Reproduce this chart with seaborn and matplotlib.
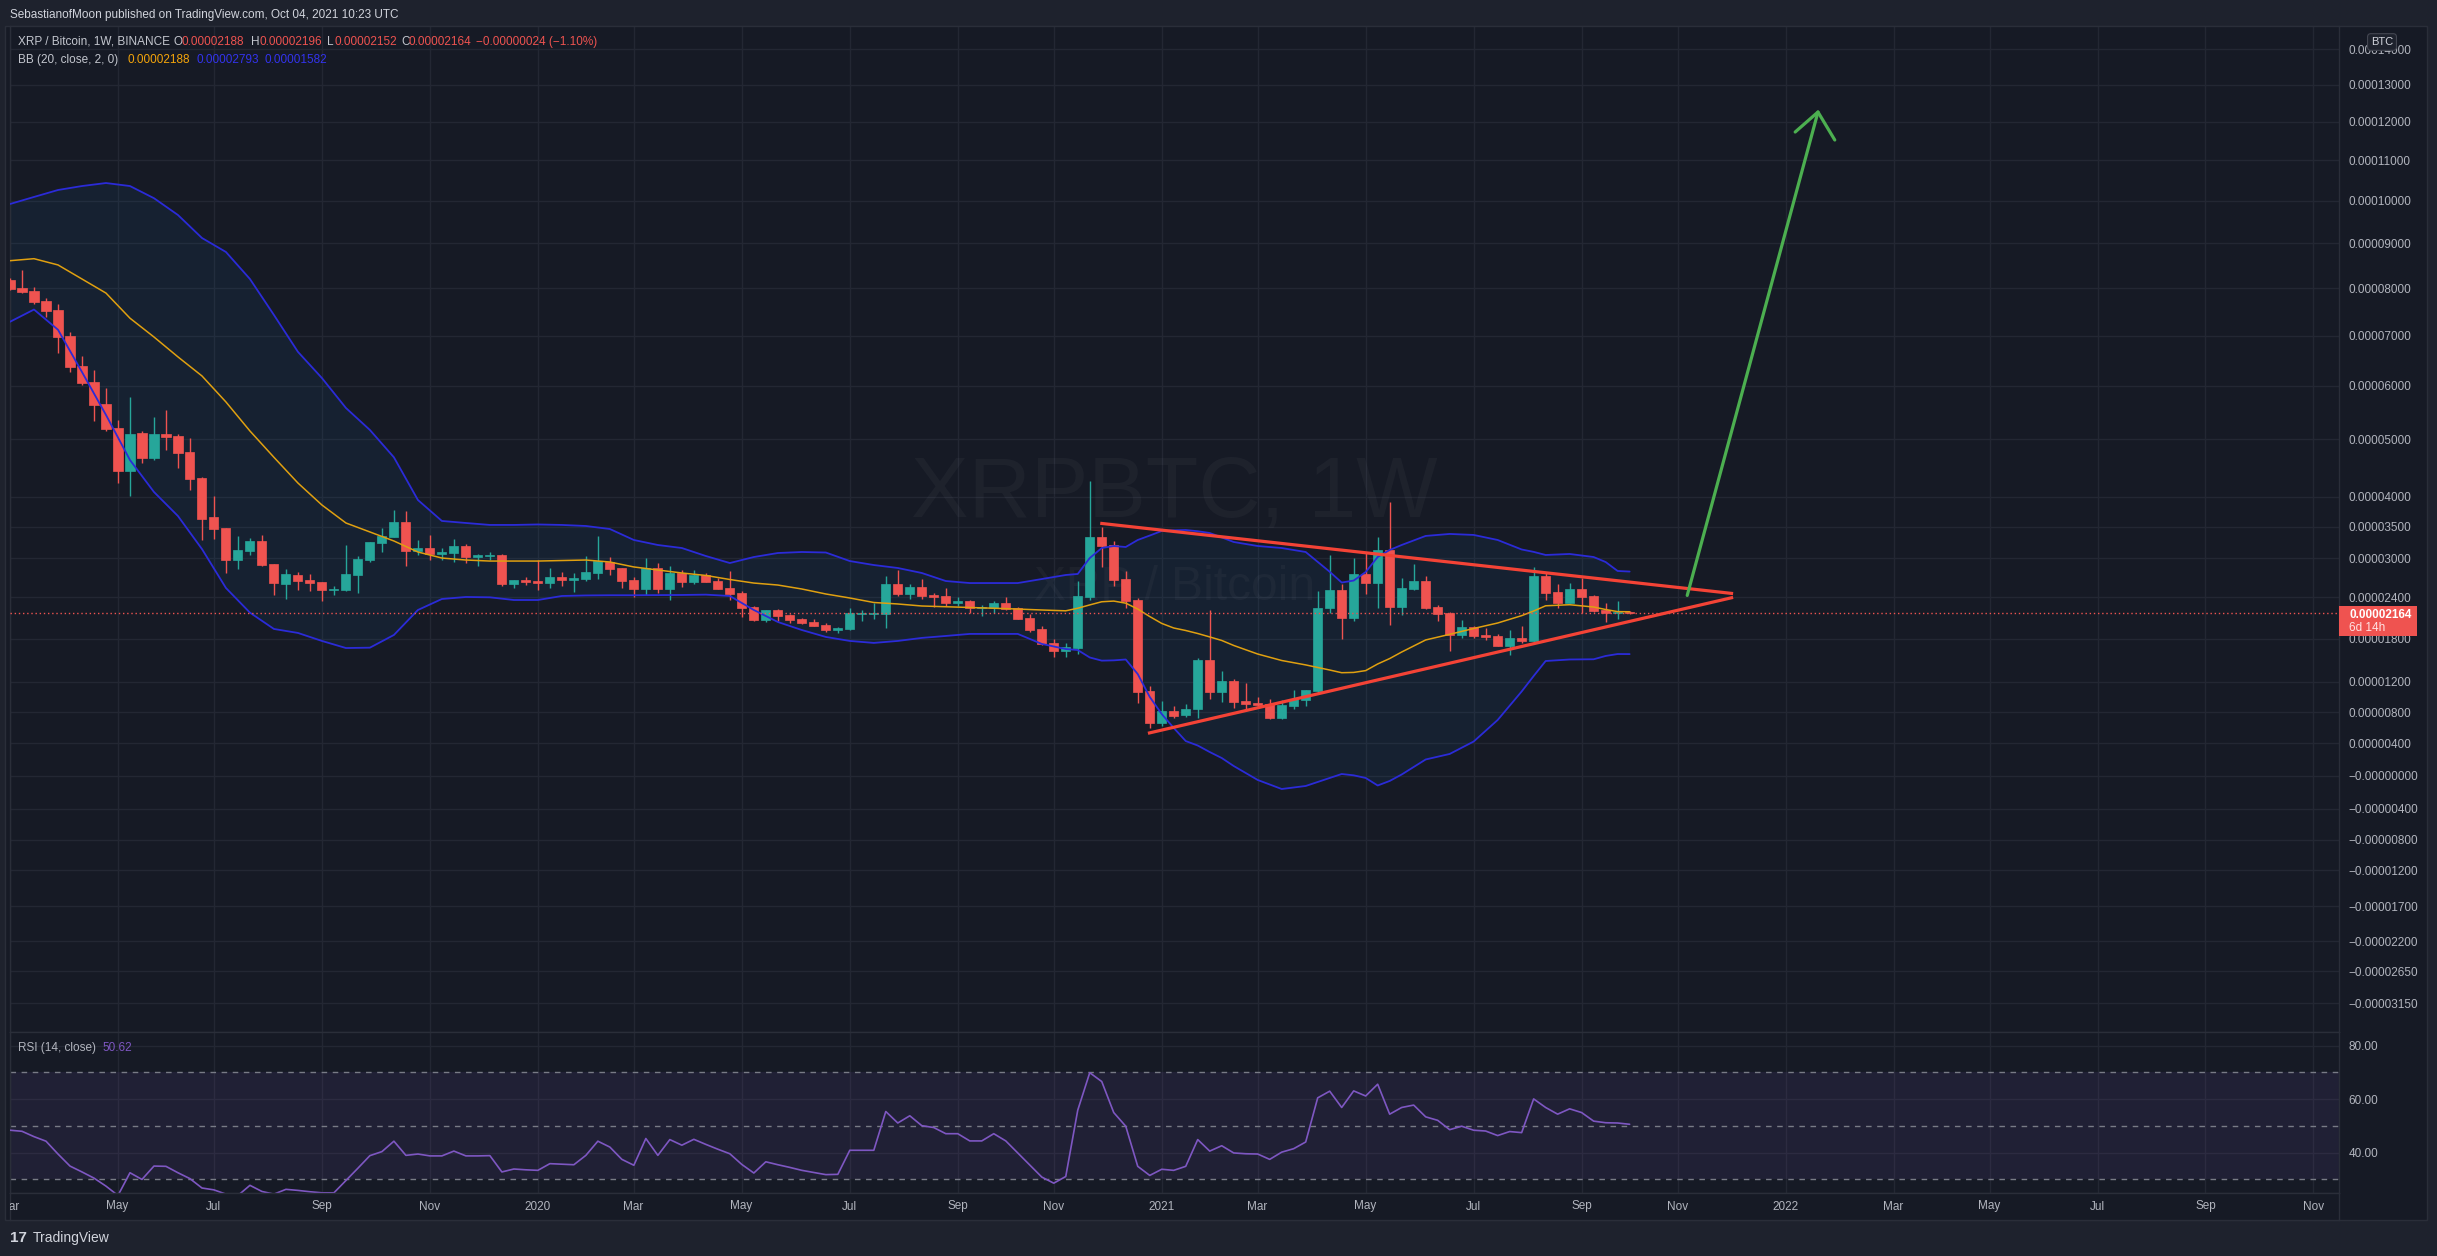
import numpy as np
import seaborn as sns
import matplotlib.pyplot as plt
import matplotlib.dates as mdates
from matplotlib.patches import Rectangle

W, H = 2437, 1256

# weekly XRP/BTC candles, prices in satoshi (1e-8 BTC), first bar = week of 2019-03-04
first_week = "2019-03-04"
opens = [8177, 8003, 7937, 7722, 7531, 6992, 6389, 6076, 5656, 5209,
         4446, 5117, 4669, 5104, 5063, 4775, 4319, 3662, 3483, 2972,
         3114, 3273, 2910, 2607, 2740, 2663, 2633, 2515, 2512, 2745,
         2972, 3246, 3343, 3580, 3119, 3161, 3071, 3087, 3193, 3024,
         3040, 3051, 2607, 2668, 2648, 2622, 2709, 2663, 2678, 2775,
         2946, 2848, 2663, 2532, 2848, 2532, 2771, 2637, 2740, 2648,
         2542, 2467, 2258, 2068, 2214, 2141, 2082, 2039, 1996, 1927,
         1938, 2160, 2160, 2156, 2602, 2452, 2557, 2437, 2422, 2317,
         2347, 2243, 2243, 2317, 2243, 2097, 1938, 1739, 1625, 1667,
         2407, 3338, 3209, 2678, 2362, 1083, 662, 815, 758, 837,
         1500, 1070, 1212, 946, 920, 907, 728, 885, 963, 1079,
         2248, 2512, 2102, 2756, 2622, 3130, 2263, 2532, 2648, 2258,
         2175, 1856, 1967, 1856, 1842, 1699, 1814, 1771, 2725, 2482,
         2322, 2527, 2422, 2214, 2175, 2188]
highs = [8230, 8397, 8031, 7793, 7659, 7074, 6587, 6310, 5961, 5356,
         5794, 5148, 5418, 5543, 5098, 5027, 4331, 4013, 3483, 3354,
         3321, 3370, 2910, 2828, 2786, 2755, 2633, 2572, 3209, 3035,
         3257, 3483, 3778, 3762, 3289, 3370, 3161, 3305, 3225, 3071,
         3098, 3067, 2663, 2709, 2972, 2843, 2786, 2766, 3035, 3354,
         3019, 2848, 2705, 3003, 2925, 2879, 2817, 2817, 2771, 2699,
         2802, 2497, 2273, 2214, 2233, 2156, 2097, 2082, 2025, 1971,
         2243, 2214, 2322, 2725, 2817, 2602, 2678, 2467, 2542, 2407,
         2362, 2288, 2347, 2407, 2263, 2160, 1981, 1791, 1739, 2648,
         4268, 3499, 3273, 2802, 2392, 1146, 950, 880, 907, 1528,
         2214, 1348, 1240, 1184, 999, 972, 959, 1092, 1092, 2497,
         3051, 2602, 3003, 3098, 3338, 3912, 2694, 2910, 2725, 2288,
         2190, 2068, 1986, 1956, 1870, 1927, 1986, 2864, 2771, 2602,
         2617, 2694, 2437, 2317, 2347, 2196]
lows = [7950, 7895, 7658, 7391, 6654, 6271, 6024, 5343, 5159, 4239,
        4013, 4585, 4633, 4811, 4493, 4114, 3289, 3310, 2766, 2837,
        3056, 2879, 2442, 2381, 2512, 2501, 2352, 2433, 2501, 2472,
        2946, 3098, 3343, 2879, 3056, 2972, 2972, 2946, 2930, 2884,
        2972, 2577, 2546, 2592, 2512, 2546, 2573, 2482, 2648, 2678,
        2740, 2542, 2412, 2442, 2472, 2367, 2562, 2607, 2637, 2532,
        2367, 2116, 2058, 2039, 2058, 2029, 2010, 1986, 1899, 1885,
        1923, 2053, 2087, 1956, 2422, 2381, 2377, 2258, 2273, 2273,
        2175, 2131, 2175, 2214, 2082, 1895, 1710, 1546, 1546, 1583,
        2362, 2868, 2573, 2248, 923, 600, 623, 728, 732, 724,
        975, 937, 858, 832, 858, 711, 715, 845, 885, 1057,
        2175, 1799, 2058, 2457, 2248, 2000, 2146, 2517, 2233, 2058,
        1629, 1814, 1814, 1785, 1699, 1574, 1743, 1757, 2367, 2248,
        2322, 2175, 2190, 2043, 2087, 2152]
closes = [7980, 7917, 7708, 7510, 6977, 6376, 6062, 5642, 5196, 4446,
          5098, 4669, 5098, 5050, 4763, 4307, 3634, 3471, 2972, 3130,
          3273, 2889, 2622, 2756, 2652, 2622, 2512, 2525, 2756, 2988,
          3257, 3354, 3580, 3119, 3166, 3071, 3102, 3193, 3024, 3051,
          3056, 2607, 2663, 2633, 2622, 2709, 2663, 2689, 2786, 2961,
          2832, 2652, 2532, 2848, 2532, 2771, 2637, 2740, 2637, 2532,
          2457, 2248, 2068, 2214, 2131, 2068, 2029, 1986, 1927, 1952,
          2166, 2166, 2166, 2602, 2452, 2557, 2422, 2407, 2317, 2347,
          2243, 2258, 2317, 2233, 2082, 1923, 1725, 1629, 1681, 2422,
          3338, 3193, 2663, 2347, 1070, 662, 811, 754, 841, 1500,
          1070, 1212, 937, 911, 898, 728, 894, 972, 1092, 2243,
          2512, 2102, 2756, 2622, 3130, 2263, 2542, 2648, 2248, 2160,
          1856, 1967, 1842, 1828, 1699, 1814, 1771, 2725, 2472, 2322,
          2527, 2412, 2203, 2175, 2188, 2164]
last_price = 2164

# Bollinger bands (20, 2), indexed by week number
bb_week = [0, 2, 4, 6, 8, 10, 12, 14, 16, 18, 20, 22, 24, 26, 28, 30, 32, 34, 36, 38,
           40, 42, 44, 46, 48, 50, 52, 54, 56, 58, 60, 62, 64, 66, 68, 70, 72, 74, 76, 78,
           80, 82, 84, 86, 88, 89, 90, 91, 92, 93, 94, 95, 96, 97, 98, 99, 100, 101, 102,
           104, 106, 108, 110, 111, 112, 113, 114, 115, 116, 118, 120, 122, 124, 126,
           127, 128, 130, 132, 133, 134, 135]
bb_upper = [9920, 10090, 10259, 10356, 10430, 10356, 10060, 9658, 9121, 8801, 8199, 7427, 6670, 6152, 5580, 5172, 4681, 3945, 3597, 3564,
            3532, 3532, 3540, 3532, 3515, 3466, 3289, 3209, 3161, 3035, 2925, 3019, 3082, 3098, 3090, 2956, 2894, 2848, 2771, 2648,
            2617, 2617, 2617, 2678, 2740, 2756, 3003, 3161, 3193, 3177, 3289, 3360, 3434, 3445, 3450, 3430, 3401, 3330, 3257,
            3193, 3161, 3098, 2790, 2625, 2655, 2786, 3019, 3130, 3209, 3354, 3386, 3370, 3289, 3138,
            3100, 3051, 3067, 3019, 2941, 2802, 2793]
bb_basis = [8605, 8650, 8510, 8199, 7893, 7360, 6971, 6569, 6193, 5693, 5154, 4681, 4233, 3861, 3564, 3418, 3273, 3098, 3003, 2972,
            2956, 2956, 2956, 2964, 2972, 2941, 2864, 2817, 2771, 2733, 2671, 2617, 2587, 2527, 2452, 2392, 2325, 2303, 2273, 2262,
            2251, 2240, 2228, 2214, 2202, 2240, 2289, 2336, 2346, 2315, 2228, 2118, 2018, 1952, 1916, 1873, 1824, 1774, 1703,
            1583, 1493, 1432, 1362, 1325, 1329, 1354, 1445, 1520, 1611, 1781, 1861, 1945, 2024, 2131,
            2199, 2276, 2292, 2258, 2221, 2190, 2188]
bb_lower = [7285, 7542, 7120, 6270, 5450, 4633, 4080, 3678, 3145, 2542, 2175, 1938, 1881, 1767, 1667, 1672, 1852, 2214, 2377, 2407,
            2402, 2362, 2362, 2422, 2430, 2433, 2433, 2435, 2437, 2442, 2422, 2214, 2039, 1923, 1824, 1767, 1739, 1767, 1810, 1838,
            1867, 1867, 1867, 1725, 1653, 1639, 1535, 1491, 1495, 1507, 1307, 1000, 775, 596, 430, 374, 293, 219, 121,
            -48, -158, -121, -24, 24, 8, -24, -115, -60, 18, 201, 269, 424, 698, 1072,
            1280, 1486, 1507, 1510, 1556, 1583, 1582]

# RSI(14) per week
rsi = [48.4, 48.0, 46.0, 44.3, 39.5, 35.0, 32.8, 30.5, 27.5, 24.0,
       32.5, 30.0, 35.0, 34.9, 32.5, 30.3, 26.8, 26.1, 24.5, 24.0,
       27.8, 25.5, 24.5, 26.3, 25.9, 25.4, 25.0, 25.0, 29.6, 34.2,
       38.9, 40.4, 44.3, 39.0, 39.5, 38.8, 38.8, 40.6, 38.8, 38.8,
       38.9, 32.8, 33.9, 33.6, 33.4, 35.9, 35.7, 35.5, 39.0, 44.3,
       42.1, 37.5, 35.3, 45.3, 39.0, 44.9, 42.8, 45.0, 43.1, 41.3,
       39.6, 35.6, 32.4, 36.6, 35.5, 34.5, 33.4, 32.6, 31.8, 31.9,
       40.9, 40.9, 40.9, 55.4, 51.1, 53.8, 50.1, 49.4, 47.1, 47.1,
       44.4, 44.4, 47.1, 44.4, 39.9, 35.4, 30.9, 28.6, 31.1, 55.9,
       69.9, 66.6, 55.0, 49.9, 34.9, 31.5, 33.8, 33.4, 34.9, 44.9,
       40.6, 42.6, 39.9, 39.6, 39.5, 37.5, 40.2, 41.5, 44.0, 60.5,
       63.0, 56.9, 63.1, 61.2, 65.6, 54.4, 56.9, 57.8, 53.4, 52.1,
       48.6, 49.9, 48.4, 48.1, 46.4, 47.9, 47.5, 60.1, 56.9, 54.4,
       56.4, 55.0, 51.8, 51.2, 51.1, 50.62]
rsi_levels = [70, 50, 30]
rsi_ticks = [80, 60, 40]

# drawings: (week number, price in sats)
tri_upper_week = [90.875, 143.625]
tri_upper_price = [3559, 2458]
tri_lower_week = [94.85, 143.625]
tri_lower_price = [528, 2401]
arrow_week = [139.8, 150.7]
arrow_price = [2430, 12255]
head_week = [148.8, 150.7, 152.1]
head_price = [11725, 12255, 11517]

price_ticks = [14000, 13000, 12000, 11000, 10000, 9000, 8000, 7000, 6000, 5000, 4000,
               3500, 3000, 2400, 1800, 1200, 800, 400, 0, -400, -800, -1200, -1700,
               -2200, -2650, -3150]
month_dates = ["2019-03-04", "2019-05-06", "2019-07-01", "2019-09-02", "2019-11-04",
               "2020-01-06", "2020-03-02", "2020-05-04", "2020-07-06", "2020-09-07",
               "2020-11-02", "2021-01-04", "2021-03-01", "2021-05-03", "2021-07-05",
               "2021-09-06", "2021-11-01", "2022-01-03", "2022-03-07", "2022-05-02",
               "2022-07-04", "2022-09-05", "2022-11-07"]
month_labels = ["Mar", "May", "Jul", "Sep", "Nov", "2020", "Mar", "May", "Jul", "Sep",
                "Nov", "2021", "Mar", "May", "Jul", "Sep", "Nov", "2022", "Mar", "May",
                "Jul", "Sep", "Nov"]

BG = "#161a25"
OUTER = "#1e222d"
GRID = "#232733"
BORDER = "#2a2e39"
TXT = "#b2b5be"
UP = "#26a69a"
DOWN = "#ef5350"
BAND = "#2b2bd8"
BASIS = "#e0a010"
RSI_C = "#7e57c2"

sns.set_theme(style="dark", rc={"axes.facecolor": BG, "figure.facecolor": OUTER,
                                "axes.edgecolor": BORDER, "text.color": TXT})
plt.rcParams["font.family"] = ["Liberation Sans", "DejaVu Sans"]


def fwd(v):
    v = np.asarray(v, dtype=float)
    return np.sign(v) * np.log1p(np.abs(v) / 1e4)


def inv(t):
    t = np.asarray(t, dtype=float)
    return np.sign(t) * np.expm1(np.abs(t)) * 1e4


def box(x0, y0, x1, y1):
    return [x0 / W, 1 - y1 / H, (x1 - x0) / W, (y1 - y0) / H]


def ftext(x, y, s, **kw):
    kw.setdefault("fontsize", 8.5)
    kw.setdefault("va", "center")
    fig.text(x / W, 1 - y / H, s, **kw)


fig = plt.figure(figsize=(W / 100, H / 100), dpi=100, facecolor=OUTER)
fig.patches.append(Rectangle((5 / W, 1 - 1220 / H), 2422 / W, 1194 / H, transform=fig.transFigure,
                             facecolor=BG, edgecolor=BORDER, lw=1, zorder=-1))

ax = fig.add_axes(box(10, 26, 2339, 1032))
ax_rsi = fig.add_axes(box(10, 1032, 2339, 1193))
ax_t = fig.add_axes(box(10, 1193, 2339, 1220))

x0 = mdates.datestr2num(first_week)
n = len(closes)
cx = x0 + 7 * np.arange(n)
bb_x = x0 + 7 * np.array(bb_week)
month_x = mdates.datestr2num(month_dates)
xlim = (x0 + 0.3, x0 + 1358.9)

o, h, l, c = (np.array(a, dtype=float) for a in (opens, highs, lows, closes))
col = np.where(c >= o, UP, DOWN)

# ---- main pane
ax.set_yscale("function", functions=(fwd, inv))
ax.set_ylim(-3613, 14685)
ax.set_xlim(*xlim)
ax.set_axisbelow(True)

ax.text(0.5, 0.512, "XRPBTC, 1W", transform=ax.transAxes, ha="center", va="baseline",
        fontsize=62, color="#d1d4dc", alpha=0.045, zorder=0.8)
ax.text(0.5, 0.4294, "XRP / Bitcoin", transform=ax.transAxes, ha="center", va="baseline",
        fontsize=34.5, color="#d1d4dc", alpha=0.045, zorder=0.8)

ax.fill_between(bb_x, bb_lower, bb_upper, color="#2196f3", alpha=0.06, lw=0, zorder=1)
ax.vlines(cx, l, h, colors=col, lw=1, zorder=3)
ax.bar(cx, np.abs(c - o), bottom=np.minimum(o, c), width=5.3, color=col,
       edgecolor=col, linewidth=0.5, zorder=3.1)

sns.lineplot(x=bb_x, y=bb_upper, ax=ax, color=BAND, lw=1.3, zorder=4)
sns.lineplot(x=bb_x, y=bb_lower, ax=ax, color=BAND, lw=1.3, zorder=4)
sns.lineplot(x=bb_x, y=bb_basis, ax=ax, color=BASIS, lw=1.1, zorder=4)

ax.axhline(last_price, color=DOWN, lw=1, ls=(0, (1, 2)), zorder=4.5)

ax.plot(x0 + 7 * np.array(tri_upper_week), tri_upper_price, color="#f44336", lw=2.3,
        solid_capstyle="butt", zorder=5)
ax.plot(x0 + 7 * np.array(tri_lower_week), tri_lower_price, color="#f44336", lw=2.3,
        solid_capstyle="butt", zorder=5)
ax.plot(x0 + 7 * np.array(arrow_week), arrow_price, color="#4caf50", lw=2.3, zorder=5)
ax.plot(x0 + 7 * np.array(head_week), head_price, color="#4caf50", lw=2.3, zorder=5)

price_labels = [("\u2212" if v <= 0 else "") + f"{abs(v) * 1e-8:.8f}" for v in price_ticks]
ax.set_yticks(price_ticks)
ax.set_yticklabels(price_labels)
ax.yaxis.tick_right()
ax.set_xticks(month_x)
ax.tick_params(axis="y", length=0, pad=7, labelsize=8.5, labelcolor=TXT, right=True, left=False)
ax.tick_params(axis="x", length=0, labelbottom=False)
ax.grid(True, color=GRID, lw=1)
ax.set_xlabel("")
ax.set_ylabel("")

# ---- RSI pane
ax_rsi.set_xlim(*xlim)
ax_rsi.set_ylim(24.93, 85.12)
ax_rsi.set_axisbelow(True)
ax_rsi.axhspan(min(rsi_levels), max(rsi_levels), facecolor=RSI_C, alpha=0.1, lw=0, zorder=0.6)
for lvl in rsi_levels:
    ax_rsi.axhline(lvl, color="#787b86", lw=1, ls=(0, (4, 4)), zorder=1)
sns.lineplot(x=cx, y=rsi, ax=ax_rsi, color=RSI_C, lw=1.2, zorder=3)
ax_rsi.set_yticks(rsi_ticks)
ax_rsi.set_yticklabels([f"{v:.2f}" for v in rsi_ticks])
ax_rsi.yaxis.tick_right()
ax_rsi.set_xticks(month_x)
ax_rsi.tick_params(axis="y", length=0, pad=7, labelsize=8.5, labelcolor=TXT, right=True, left=False)
ax_rsi.tick_params(axis="x", length=0, labelbottom=False)
ax_rsi.grid(True, color=GRID, lw=1)
ax_rsi.set_xlabel("")
ax_rsi.set_ylabel("")
ax_rsi.text(0.0034, 0.9, "RSI (14, close)", transform=ax_rsi.transAxes, fontsize=8.5,
            color=TXT, va="center")
ax_rsi.text(0.0395, 0.9, f"{rsi[-1]:.2f}", transform=ax_rsi.transAxes, fontsize=8.5,
            color=RSI_C, va="center")

# ---- time axis strip
ax_t.set_xlim(*xlim)
ax_t.set_ylim(0, 1)
ax_t.set_xticks([])
ax_t.set_yticks([])
for mx, lab in zip(month_x, month_labels):
    ax_t.text(mx, 0.5, lab, ha="center", va="center", fontsize=8.5, color=TXT, clip_on=True)

for a in (ax, ax_rsi, ax_t):
    for s in a.spines.values():
        s.set_color(BORDER)
        s.set_linewidth(1)

# ---- header / legend texts
ftext(10, 15, "SebastianofMoon published on TradingView.com, Oct 04, 2021 10:23 UTC",
      fontsize=8.5, color="#d1d4dc")
ftext(18, 42, "XRP / Bitcoin, 1W, BINANCE", color="#c3c6ce")
for letter, lx, val, vx in [("O", 173, opens[-1], 182), ("H", 251, highs[-1], 259),
                            ("L", 327, lows[-1], 334), ("C", 401, closes[-1], 408.5)]:
    ftext(lx, 42, letter, color="#c3c6ce")
    ftext(vx, 42, f"{val * 1e-8:.8f}", color=DOWN)
chg = closes[-1] - opens[-1]
ftext(476, 42, f"\u2212{abs(chg) * 1e-8:.8f} (\u2212{abs(chg) / opens[-1] * 100:.2f}%)", color=DOWN)
ftext(18, 60, "BB (20, close, 2, 0)", color="#c3c6ce")
ftext(128, 60, f"{bb_basis[-1] * 1e-8:.8f}", color="#f5a50a")
ftext(196.5, 60, f"{bb_upper[-1] * 1e-8:.8f}", color="#3333ee")
ftext(264.5, 60, f"{bb_lower[-1] * 1e-8:.8f}", color="#3333ee")

# currency badge and last price label
ftext(2382, 42, "BTC", ha="center", fontsize=8, color="#d1d4dc",
      bbox=dict(boxstyle="round,pad=0.3", fc=OUTER, ec="#434651", lw=0.8), zorder=6)
fig.patches.append(Rectangle((2339 / W, 1 - 636 / H), 78 / W, 30 / H, transform=fig.transFigure,
                             facecolor=DOWN, edgecolor="none", zorder=5))
ftext(2349, 614.5, f"{last_price * 1e-8:.8f}", color="white", fontweight="bold", zorder=6)
ftext(2349, 628, "6d 14h", color="#ffe3e3", zorder=6)

# footer logo
ftext(10, 1238, "17", fontsize=11, fontweight="bold", color="#d1d4dc")
ftext(33, 1238, "TradingView", fontsize=10, color="#d1d4dc")

fig.savefig("out.png", dpi=100, facecolor=OUTER)
